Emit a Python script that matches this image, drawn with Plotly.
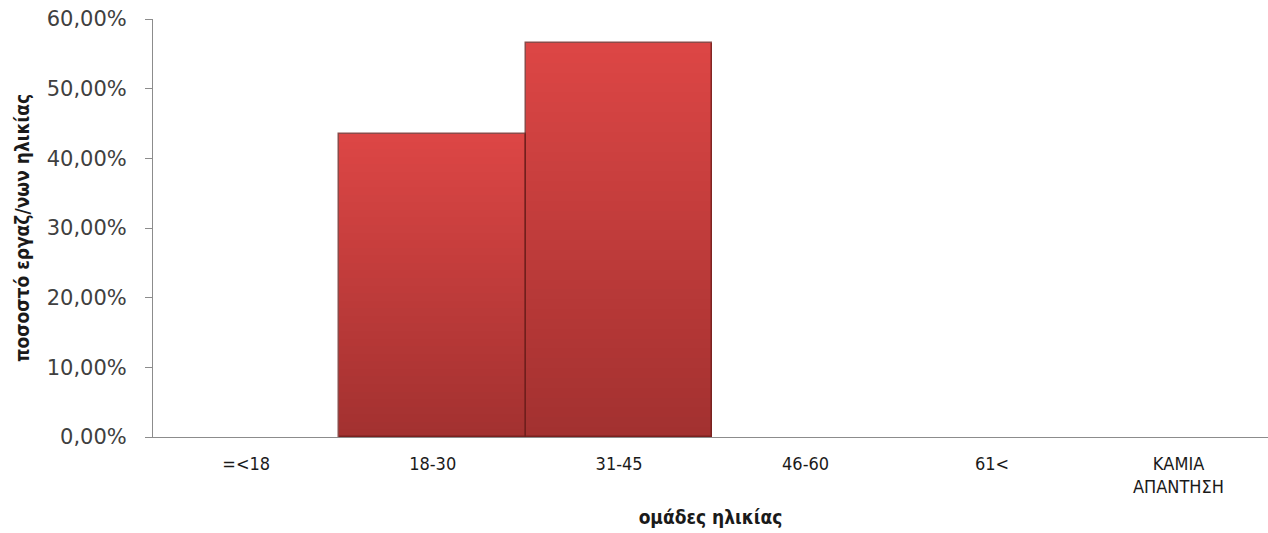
import plotly.graph_objects as go

# Age groups and share of employees in each group
categories = ["=<18", "18-30", "31-45", "46-60", "61<", "ΚΑΜΙΑ<br>ΑΠΑΝΤΗΣΗ"]
shares = [0.0, 0.4348, 0.5652, 0.0, 0.0, 0.0]
y_ticks = [0.0, 0.1, 0.2, 0.3, 0.4, 0.5, 0.6]

TOP_RGB = (220, 70, 69)
BOTTOM_RGB = (163, 49, 48)
EDGE = "rgba(110,30,28,0.8)"
N_STEPS = 40

fig = go.Figure()

# Vertical shading: each bar is built from thin stacked slices whose colour
# fades from dark red at the base to lighter red at the top.
for i in range(N_STEPS):
    t = i / (N_STEPS - 1)
    r, g, b = (round(BOTTOM_RGB[k] + (TOP_RGB[k] - BOTTOM_RGB[k]) * t) for k in range(3))
    fig.add_trace(go.Bar(
        x=categories,
        y=[v / N_STEPS for v in shares],
        base=[v * i / N_STEPS for v in shares],
        marker=dict(color=f"rgb({r},{g},{b})", line=dict(width=0)),
        hoverinfo="skip",
        showlegend=False,
    ))

# Outline of each non-empty bar
fig.add_trace(go.Bar(
    x=categories,
    y=shares,
    marker=dict(
        color="rgba(0,0,0,0)",
        line=dict(color=EDGE, width=[1.5 if v > 0 else 0 for v in shares]),
    ),
    showlegend=False,
    hovertemplate="%{x}: %{y:.2%}<extra></extra>",
))

fig.update_layout(
    barmode="overlay",
    bargap=0,
    width=1268,
    height=533,
    margin=dict(l=153, r=0, t=19, b=96),
    paper_bgcolor="white",
    plot_bgcolor="white",
    separators=",.",
    font=dict(family="DejaVu Sans, Verdana, sans-serif", color="#404040"),
)

fig.update_xaxes(
    type="category",
    range=[-0.5, 5.48],
    showline=True,
    linecolor="#8c8c8c",
    linewidth=1,
    ticks="",
    showgrid=False,
    ticklabelstandoff=10,
    tickfont=dict(family="DejaVu Sans Condensed, Liberation Sans Narrow, Noto Sans, sans-serif",
                  size=18, color="#1a1a1a"),
    title=dict(
        text="<b>ομάδες ηλικίας</b>",
        font=dict(family="DejaVu Sans Condensed, Noto Sans, sans-serif", size=19, color="#1a1a1a"),
        standoff=14,
    ),
)

fig.update_yaxes(
    range=[0, 0.6],
    tickvals=y_ticks,
    tickformat=".2%",
    showline=True,
    linecolor="#8c8c8c",
    linewidth=1,
    ticks="outside",
    ticklen=7,
    tickcolor="#8c8c8c",
    showgrid=False,
    zeroline=False,
    ticklabelstandoff=14,
    tickfont=dict(family="DejaVu Sans, Verdana, sans-serif", size=21, color="#404040"),
    title=dict(
        text="<b>ποσοστό εργαζ/νων ηλικίας</b>",
        font=dict(family="DejaVu Sans Condensed, Liberation Sans Narrow, Noto Sans, sans-serif",
                  size=19, color="#1a1a1a"),
        standoff=12,
    ),
)

fig.write_html("out.html")
